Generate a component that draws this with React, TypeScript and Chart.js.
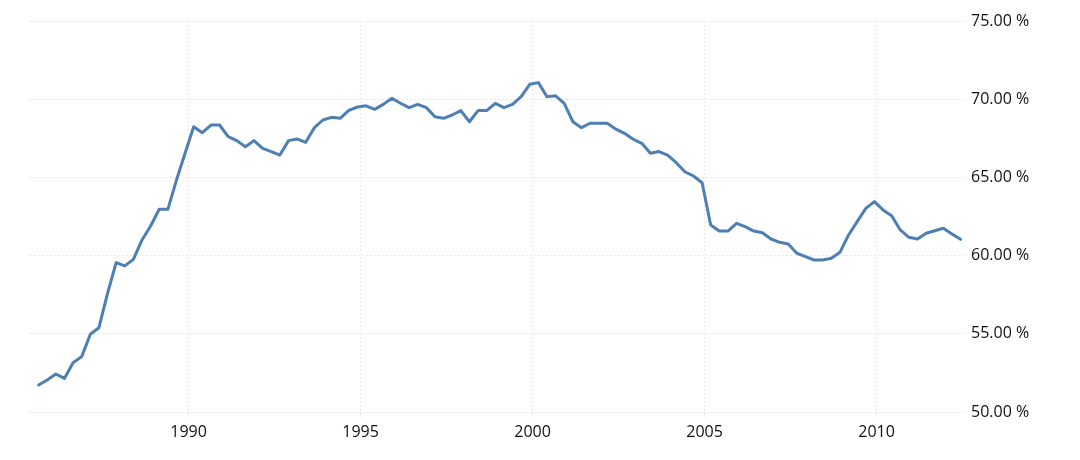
import React, { useEffect, useRef } from "react";
import { Chart, registerables } from "chart.js";

Chart.register(...registerables);

// Quarterly values (%), first observation around mid-1985
const values: number[] = [
  51.73, 52.05, 52.43, 52.15, 53.15, 53.54, 54.97, 55.39, 57.59, 59.55,
  59.34, 59.76, 61.0, 61.89, 62.96, 62.96, 64.83, 66.54, 68.24, 67.86,
  68.35, 68.35, 67.6, 67.35, 66.96, 67.35, 66.86, 66.65, 66.43, 67.35,
  67.46, 67.24, 68.18, 68.67, 68.84, 68.78, 69.29, 69.5, 69.58, 69.35,
  69.67, 70.06, 69.74, 69.46, 69.67, 69.46, 68.88, 68.78, 68.99, 69.27,
  68.56, 69.27, 69.27, 69.74, 69.46, 69.67, 70.16, 70.95, 71.06, 70.16,
  70.22, 69.74, 68.56, 68.18, 68.46, 68.46, 68.46, 68.08, 67.82, 67.44,
  67.18, 66.54, 66.65, 66.43, 65.94, 65.36, 65.09, 64.66, 61.96, 61.57,
  61.57, 62.06, 61.85, 61.57, 61.46, 61.06, 60.85, 60.74, 60.15, 59.93,
  59.72, 59.72, 59.83, 60.21, 61.32, 62.17, 63.02, 63.45, 62.92, 62.55,
  61.64, 61.17, 61.06, 61.43, 61.59, 61.75, 61.38, 61.04,
];
const startYear = 1985.64;
const stepYears = 0.2505;
const xTicks: number[] = [1990, 1995, 2000, 2005, 2010];
const yTicks: number[] = [50, 55, 60, 65, 70, 75];

export default function App() {
  const ref = useRef<HTMLCanvasElement | null>(null);
  useEffect(() => {
    if (!ref.current) return;
    const font = { family: "'Open Sans', sans-serif", size: 16 };
    const chart = new Chart(ref.current, {
      type: "line",
      data: {
        datasets: [
          {
            data: values.map((v, i) => ({ x: startYear + i * stepYears, y: v })),
            borderColor: "#4e7fb4",
            borderWidth: 3,
            pointRadius: 0,
            tension: 0,
            fill: false,
            borderJoinStyle: "round",
            borderCapStyle: "round",
          },
        ],
      },
      options: {
        animation: false,
        responsive: false,
        devicePixelRatio: 1,
        layout: { padding: { left: 30, top: 21, right: 0, bottom: 0 } },
        plugins: { legend: { display: false }, tooltip: { enabled: false } },
        scales: {
          x: {
            type: "linear",
            min: 1985.39,
            max: 2012.63,
            afterBuildTicks: (s: any) => {
              s.ticks = xTicks.map((v) => ({ value: v }));
            },
            afterFit: (s: any) => {
              s.height = 48;
            },
            ticks: {
              callback: (v: any) => String(v),
              font,
              color: "#111",
              padding: 6,
              maxRotation: 0,
              autoSkip: false,
            },
            grid: { color: "#e8e8e8", drawTicks: true, tickLength: 5 },
            border: { display: false, dash: [2, 2] },
          },
          y: {
            position: "right",
            min: 50,
            max: 75,
            afterBuildTicks: (s: any) => {
              s.ticks = yTicks.map((v) => ({ value: v }));
            },
            afterFit: (s: any) => {
              s.width = 113;
            },
            ticks: {
              callback: (v: any) => Number(v).toFixed(2) + " %",
              font,
              color: "#111",
              padding: 4,
            },
            grid: { color: "#e8e8e8", drawTicks: false },
            border: { display: false, dash: [2, 2] },
          },
        },
      },
    } as any);
    return () => chart.destroy();
  }, []);
  return (
    <div style={{ position: "fixed", left: 0, top: 0, width: 1080, height: 460, background: "#fff" }}>
      <canvas ref={ref} width={1080} height={460} style={{ width: 1080, height: 460, display: "block" }} />
    </div>
  );
}
